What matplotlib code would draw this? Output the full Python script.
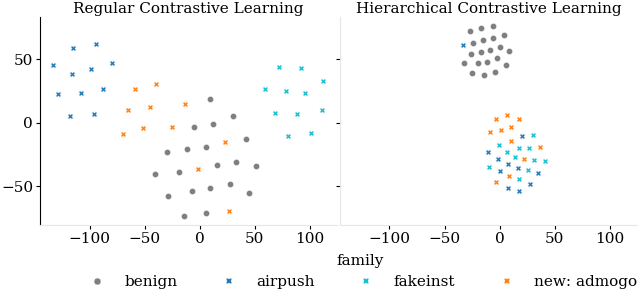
import matplotlib
matplotlib.use("Agg")
import matplotlib.pyplot as plt
from matplotlib.lines import Line2D

plt.rcParams['font.family'] = 'DejaVu Serif'

families = ['benign', 'airpush', 'fakeinst', 'new: admogo']
colors = ['#7f7f7f', '#1f77b4', '#17becf', '#ff7f0e']
markers = ['o', 'X', 'X', 'X']
titles = ['Regular Contrastive Learning', 'Hierarchical Contrastive Learning']

# regular contrastive learning embedding
reg_benign_x = [9.7, 30, -5.5, 11.8, 41.8, -11.5, 5.8, -29.6, -40.5, -18.7, 15.2, 32.7, 51.3, -28.5, -7.5, 9.7, 27, 44.9, -14.5, 6.1]
reg_benign_y = [18.5, 5.5, -3.6, -1, -12.6, -20.8, -18.9, -23.4, -40.7, -39.2, -33.6, -31.3, -34.4, -57.9, -54.2, -51.8, -48.6, -55.7, -73.6, -71.3]
reg_airpush_x = [-133.6, -115, -94.2, -116, -99, -79.4, -129, -107.5, -88.2, -117.5, -96.4]
reg_airpush_y = [45.3, 58.7, 62.4, 38.4, 42.4, 46.9, 22.9, 23.2, 26.8, 5.5, 7.1]
reg_fakeinst_x = [58.8, 71.5, 78.2, 92.2, 95.8, 111.8, 68.5, 88.5, 111, 80, 101.3]
reg_fakeinst_y = [26.6, 44.2, 24.8, 43.2, 23.2, 32.7, 7.4, 7.1, 10, -10.3, -8.4]
reg_admogo_x = [-58.5, -40, -65.5, -45.5, -13.3, -70, -51.8, -25.1, 23.1, -1.2, 26.1]
reg_admogo_y = [26.8, 30.3, 10, 12.4, 15, -8.9, -4.4, -3.6, -15.2, -36.3, -69.9]

# hierarchical contrastive learning embedding
hier_benign_x = [-27.3, -17, -6.4, 3.9, -24, -14.9, -6.4, -26.1, -17.3, -8.8, 0, 8.5, -32.7, -20, -11.3, -2.7, 5.7, -24.9, -14.3, -4.3]
hier_benign_y = [72.1, 74.7, 76.6, 69.2, 63.1, 65.3, 66.9, 54.5, 55.8, 57.4, 59.5, 56.6, 47.4, 47.1, 47.9, 50.8, 45.5, 39, 37.6, 40]
hier_airpush_x = [-33.6, 20, -10.4, -1.3, 7.3, 16.4, 0.3, 35.1, 27.8, 7.3, 17.8]
hier_airpush_y = [61.3, -10.7, -23.4, -28.4, -32.6, -35.8, -37.9, -39.9, -48.1, -51.8, -54.1]
hier_fakeinst_x = [30.3, -0.6, 17.8, 26.6, 6.9, 14, 31.1, 40.9, -10, 25.5, 17.8]
hier_fakeinst_y = [-9.7, -17.8, -19.7, -19.7, -23.1, -27.3, -29.2, -30, -35.2, -37.6, -44.7]
hier_admogo_x = [-3.4, 6.9, 17.8, -8.5, 1.5, 10, 10, 36.4, 22.4, 8.5, -3.4]
hier_admogo_y = [2.7, 6.1, 2.9, -7.1, -6, -3.4, -14.7, -19.2, -28.6, -41.8, -47]

panels = [
    [(reg_benign_x, reg_benign_y), (reg_airpush_x, reg_airpush_y),
     (reg_fakeinst_x, reg_fakeinst_y), (reg_admogo_x, reg_admogo_y)],
    [(hier_benign_x, hier_benign_y), (hier_airpush_x, hier_airpush_y),
     (hier_fakeinst_x, hier_fakeinst_y), (hier_admogo_x, hier_admogo_y)],
]

fig = plt.figure(figsize=(6.4, 2.94), dpi=100)
ax1 = fig.add_axes([0.0625, 0.2347, 0.464, 0.7075])
ax2 = fig.add_axes([0.531, 0.2347, 0.464, 0.7075], sharey=ax1)
axes = [ax1, ax2]

for ax, pts, title in zip(axes, panels, titles):
    for (xs, ys), c, m in zip(pts, colors, markers):
        s = 20 if m == 'o' else 16
        ax.scatter(xs, ys, c=c, marker=m, s=s, edgecolors='white', linewidths=0.3, zorder=3)
    ax.set_xlim(-145, 124.5)
    ax.set_ylim(-80.7, 83.4)
    ax.set_xticks([-100, -50, 0, 50, 100])
    ax.set_yticks([-50, 0, 50])
    ax.set_title(title, fontsize=11, pad=3)
    ax.tick_params(labelsize=11, length=3, width=0.8, pad=2)
    for side in ['top', 'right']:
        ax.spines[side].set_visible(False)
    ax.spines['bottom'].set_color('#e6e6e6')

ax1.spines['left'].set_color('black')
ax2.spines['left'].set_color('#e6e6e6')
ax2.tick_params(labelleft=False)

handles = [Line2D([], [], linestyle='none', marker=m, color=c, markersize=5 if m == 'o' else 5,
                  markeredgecolor='white', markeredgewidth=0.3)
           for c, m in zip(colors, markers)]
fig.legend(handles, families, title='family', loc='lower center', ncol=4, frameon=False,
           fontsize=11, title_fontsize=11, bbox_to_anchor=(0.562, -0.015),
           handletextpad=0.8, columnspacing=2.35, borderaxespad=0.2)

fig.savefig('out.png', dpi=100)
